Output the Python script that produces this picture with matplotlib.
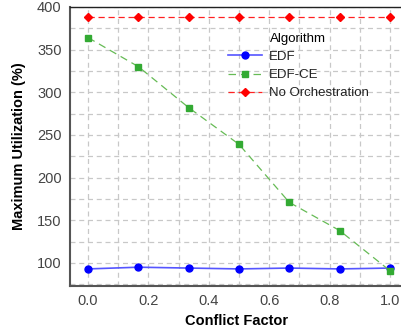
import numpy as np
from matplotlib import pyplot as plt

conflict = [0.0, 1 / 6, 2 / 6, 0.5, 4 / 6, 5 / 6, 1.0]
edf = [93, 95, 94, 93, 94, 93, 94]
edf_ce = [364, 330, 282, 239, 171, 138, 91]
no_orch = [388, 388, 388, 388, 388, 388, 388]

plt.rcParams['font.family'] = ['Liberation Sans', 'DejaVu Sans']

fig = plt.figure(figsize=(4.01, 3.31), dpi=100)
ax = fig.add_axes([0.1746, 0.136, 0.83, 0.843])

ax.plot(conflict, edf, color='#5555ff', lw=1.2, marker='o', ms=5,
        mfc='#0000ff', mec='#0000ff', label='EDF')
ax.plot(conflict, edf_ce, color='#66bb55', lw=0.9, ls=(0, (6, 4)), marker='s', ms=5,
        mfc='#33aa33', mec='#33aa33', label='EDF-CE')
ax.plot(conflict, no_orch, color='#ff2222', lw=0.9, ls=(0, (5, 3)), marker='D', ms=4.5,
        mfc='#ff0000', mec='#ff0000', label='No Orchestration')

ax.set_xlim(-0.06, 1.043)
ax.set_ylim(73, 400)
ax.set_xticks(np.arange(0, 1.01, 0.2))
ax.set_xticks(np.arange(0.1, 1.0, 0.2), minor=True)
ax.set_yticks(np.arange(100, 401, 50))
ax.set_yticks(np.arange(75, 400, 50), minor=True)
ax.grid(True, which='both', color='#c8c8c8', ls=(0, (4, 3)), lw=0.9)
ax.tick_params(which='both', length=0)
ax.tick_params(labelsize=10.5, colors='#444444', pad=6)

for side in ['left', 'bottom']:
    ax.spines[side].set_color('#555555')
    ax.spines[side].set_linewidth(1.5)
ax.spines['top'].set_color('#222222')
ax.spines['top'].set_linewidth(1.0)
ax.spines['right'].set_visible(False)

ax.set_xlabel('Conflict Factor', fontsize=10.5, fontweight='bold', labelpad=4)
ax.set_ylabel('Maximum Utilization (%)', fontsize=10.5, fontweight='bold', labelpad=8)

leg = ax.legend(title='Algorithm', loc='upper left', bbox_to_anchor=(0.447, 0.94),
                frameon=False, fontsize=9.5, title_fontsize=9.5, handlelength=2.6,
                labelspacing=0.45, handletextpad=0.5, borderpad=0.2)
leg._legend_box.align = 'left'
leg.get_title().set_position((42, 0))
for t in leg.get_texts():
    t.set_color('#222222')

fig.savefig('out.png', dpi=100)
